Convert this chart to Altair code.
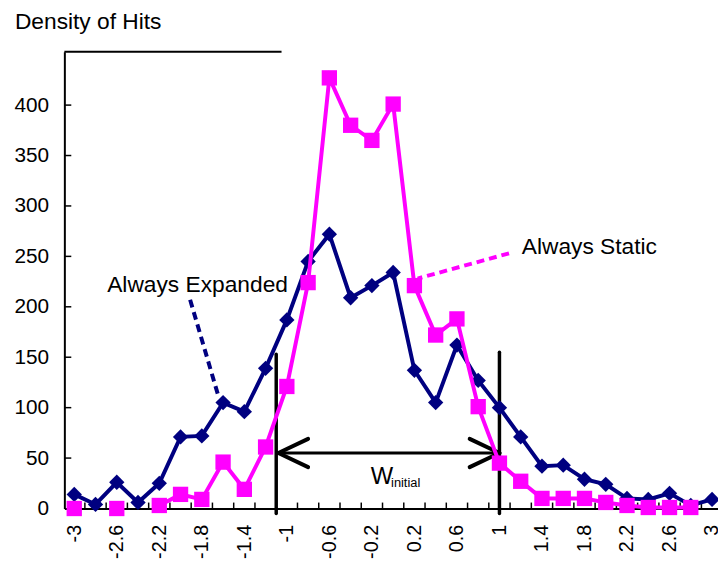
import altair as alt
import pandas as pd

FONT = "Liberation Sans"

# ---------------- data ----------------
x_cats = [-3.0, -2.8, -2.6, -2.4, -2.2, -2.0, -1.8, -1.6, -1.4, -1.2, -1.0,
          -0.8, -0.6, -0.4, -0.2, 0.0, 0.2, 0.4, 0.6, 0.8, 1.0,
          1.2, 1.4, 1.6, 1.8, 2.0, 2.2, 2.4, 2.6, 2.8, 3.0]

always_expanded = [14, 4, 26, 6, 25, 71, 72, 105, 96, 139, 187,
                   245, 272, 209, 221, 234, 137, 105, 162, 127, 100,
                   71, 42, 43, 29, 24, 10, 9, 15, 3, 9]

always_static = [0, None, 0, None, 3, 14, 9, 46, 19, 61, 121,
                 224, 427, 380, 365, 401, 221, 172, 188, 101, 45,
                 27, 10, 10, 10, 6, 3, 1, 1, 1, None]

x_tick_labels = [-3, -2.6, -2.2, -1.8, -1.4, -1, -0.6, -0.2, 0.2, 0.6, 1,
                 1.4, 1.8, 2.2, 2.6, 3]
y_tick_values = [0, 50, 100, 150, 200, 250, 300, 350, 400]

# category boundaries (small inner ticks on the x axis)
x_boundaries = [round((a + b) / 2, 2) for a, b in zip(x_cats[:-1], x_cats[1:])]

x_domain = [-3.093, 3.056]
y_domain = [0, 453]

# annotation geometry in data units
v_lines_x = [-1.1, 1.0]
v_lines_y0 = [-5, -5]
v_lines_y1 = [153, 155]

arrow_x0, arrow_x1, arrow_y = -1.08, 1.0, 55
head_dx, head_dy = 0.28, 14

exp_leader = [(-1.91, 207), (-1.64, 110)]
sta_leader = [(1.09, 253), (0.23, 228)]

texts = pd.DataFrame({
    "x": [-2.69, 1.21],
    "v": [222, 259],
    "t": ["Always Expanded", "Always Static"],
})

# ---------------- frames ----------------
df_exp = pd.DataFrame({"x": x_cats, "v": always_expanded})

seg, segs = 0, []
for v in always_static:
    if v is None:
        seg += 1
    segs.append(seg)
df_sta = pd.DataFrame({"x": x_cats, "v": always_static, "seg": segs})
df_sta = df_sta[df_sta["v"].notna()]

xs = alt.Scale(domain=x_domain, nice=False, zero=False)
ys = alt.Scale(domain=y_domain, nice=False, zero=False)

PH = 462
PW = 661

xaxis = alt.Axis(values=x_tick_labels,
                 labelExpr="toString(round(datum.value*10)/10)",
                 labelAngle=270, labelPadding=16, ticks=False, tickSize=0,
                 grid=False, domainColor="black", domainWidth=2,
                 labelFont=FONT, labelFontSize=20, labelColor="black",
                 labelFlush=False, labelOverlap=False, title=None)
yaxis = alt.Axis(values=y_tick_values, ticks=False, tickSize=0, labelPadding=16,
                 grid=False, domainColor="black", domainWidth=2,
                 labelFont=FONT, labelFontSize=21, labelColor="black",
                 labelFlush=False, labelOverlap=False, title=None)


def X(f):
    return alt.X(f, scale=xs, axis=xaxis)


def Y(f):
    return alt.Y(f, scale=ys, axis=yaxis)


# series layers
exp_line = alt.Chart(df_exp).mark_line(color="#000080", strokeWidth=4).encode(
    x=X("x:Q"), y=Y("v:Q"),
)
exp_pts = alt.Chart(df_exp).mark_point(shape="diamond", filled=True, size=240,
                                       color="#000080", opacity=1).encode(
    x=X("x:Q"), y=Y("v:Q"),
)
sta_line = alt.Chart(df_sta).mark_line(color="#FF00FF", strokeWidth=4).encode(
    x=X("x:Q"), y=Y("v:Q"), detail="seg:N",
)
sta_pts = alt.Chart(df_sta).mark_point(shape="square", filled=True, size=240,
                                       color="#FF00FF", opacity=1).encode(
    x=X("x:Q"), y=Y("v:Q"),
)

# inner ticks
xticks = alt.Chart(pd.DataFrame({"x": x_boundaries})).mark_rule(
    color="black", strokeWidth=1.5).encode(
    x=X("x:Q"), y=alt.value(PH), y2=alt.value(PH - 6),
)
yticks = alt.Chart(pd.DataFrame({"v": y_tick_values[1:]})).mark_rule(
    color="black", strokeWidth=1.5).encode(
    y=Y("v:Q"), x=alt.value(0), x2=alt.value(7),
)
top_rule = alt.Chart(pd.DataFrame({"x": [x_domain[0]], "b": [-1.05]})).mark_rule(
    color="black", strokeWidth=2).encode(
    x=X("x:Q"), x2="b:Q", y=alt.value(0),
)

# W_initial annotation
seg_df = pd.DataFrame({
    "x": v_lines_x + [arrow_x0, arrow_x0, arrow_x0, arrow_x1, arrow_x1],
    "x1": v_lines_x + [arrow_x1, arrow_x0 + head_dx, arrow_x0 + head_dx,
                       arrow_x1 - head_dx, arrow_x1 - head_dx],
    "v": v_lines_y0 + [arrow_y] * 5,
    "y1": v_lines_y1 + [arrow_y, arrow_y + head_dy, arrow_y - head_dy,
                        arrow_y + head_dy, arrow_y - head_dy],
    "w": [3.5, 3.5, 3, 4, 4, 4, 4],
})
annot = alt.Chart(seg_df).mark_rule(color="black", strokeCap="round").encode(
    x=X("x:Q"), x2="x1:Q",
    y=Y("v:Q"), y2="y1:Q",
    strokeWidth=alt.StrokeWidth("w:Q", scale=None, legend=None),
)


def leader(pts, color):
    d = pd.DataFrame({"x": [pts[0][0]], "x1": [pts[1][0]],
                      "v": [pts[0][1]], "y1": [pts[1][1]]})
    return alt.Chart(d).mark_rule(color=color, strokeWidth=4,
                                  strokeDash=[8, 5]).encode(
        x=X("x:Q"), x2="x1:Q", y=Y("v:Q"), y2="y1:Q",
    )


lead_exp = leader(exp_leader, "#000080")
lead_sta = leader(sta_leader, "#FF00FF")

labels = alt.Chart(texts).mark_text(
    font=FONT, fontSize=23, align="left", baseline="middle", color="black").encode(
    x=X("x:Q"), y=Y("v:Q"), text="t:N",
)
w_text = alt.Chart(pd.DataFrame({"x": [-0.21], "v": [31], "t": ["W"]})).mark_text(
    font=FONT, fontSize=24, align="left", baseline="middle", color="black").encode(
    x=X("x:Q"), y=Y("v:Q"), text="t:N",
)
w_sub = alt.Chart(pd.DataFrame({"x": [-0.02], "v": [25], "t": ["initial"]})).mark_text(
    font=FONT, fontSize=13, align="left", baseline="middle", color="black").encode(
    x=X("x:Q"), y=Y("v:Q"), text="t:N",
)
title = alt.Chart(pd.DataFrame({"t": ["Density of Hits"]})).mark_text(
    font=FONT, fontSize=23, align="left", baseline="middle", color="black").encode(
    x=alt.value(-50), y=alt.value(-30), text="t:N",
)

chart = alt.layer(
    xticks, yticks, top_rule, annot, lead_exp, lead_sta,
    exp_line, exp_pts, sta_line, sta_pts, labels, w_text, w_sub, title,
).properties(
    width=PW, height=PH,
    autosize=alt.AutoSizeParams(type="none"),
    padding={"left": 57, "top": 41, "right": 0, "bottom": 54},
    background="white",
).configure_view(stroke=None)

chart.save("out.html", embed_options={"renderer": "svg", "actions": False})
